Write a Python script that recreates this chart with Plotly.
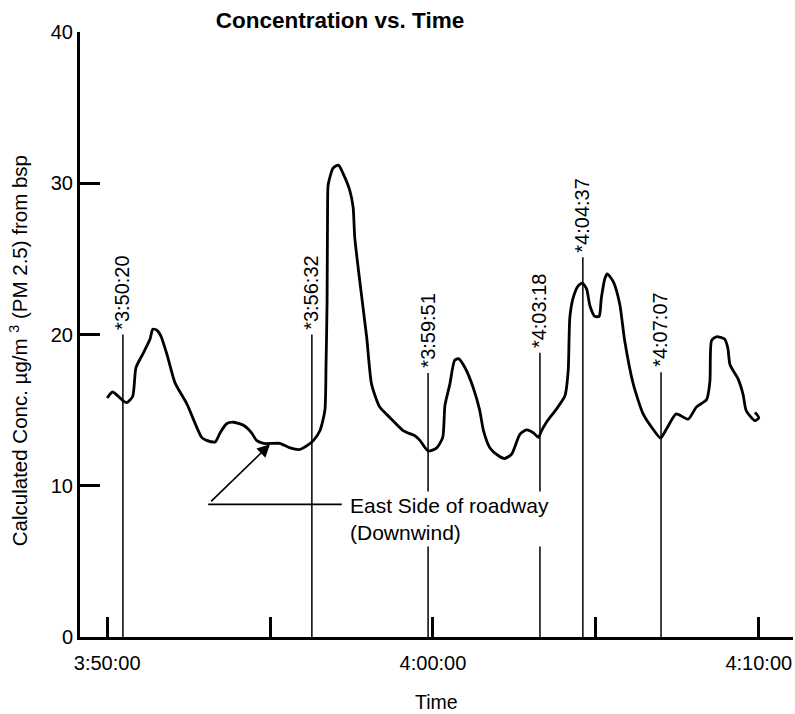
import plotly.graph_objects as go
import pandas as pd

# ---- data ----
BASE = pd.Timestamp("2000-01-01 03:50:00")

# elapsed seconds after 3:50:00 and concentration (ug/m3)
elapsed_s = [0, 10, 30, 36, 47, 53, 67, 79, 84, 91, 99, 110, 125, 147, 174, 183, 199, 208,
             220, 232, 251, 266, 275, 288, 303, 318, 337, 355, 370, 380, 392, 401, 403, 405,
             406, 407, 416, 426, 435, 447, 453, 456, 466, 478, 487, 502, 521, 545, 567, 576,
             591, 607, 618, 622, 631, 640, 647, 659, 674, 686, 693, 705, 720, 732, 745, 760,
             772, 785, 794, 800, 809, 828, 843, 849, 852, 858, 867, 875, 883, 889, 898, 906,
             910, 917, 921, 932, 944, 953, 969, 987, 1005, 1019, 1030, 1048, 1070, 1085, 1104,
             1110, 1113, 1122, 1137, 1143, 1147, 1162, 1171, 1177, 1193, 1200, 1193]
conc = [15.8, 16.2, 15.6, 15.5, 15.9, 17.8, 18.8, 19.7, 20.35, 20.3, 19.9, 18.7, 16.8, 15.4,
        13.2, 13.0, 12.9, 13.5, 14.1, 14.2, 14.0, 13.5, 13.0, 12.8, 12.8, 12.8, 12.5, 12.4,
        12.7, 13.0, 13.65, 15.0, 17.8, 22.2, 28.8, 29.9, 31.0, 31.2, 30.6, 29.5, 28.4, 26.4,
        23.3, 19.8, 16.7, 15.2, 14.5, 13.65, 13.3, 13.0, 12.3, 12.5, 13.2, 15.3, 16.7, 18.3,
        18.4, 17.8, 16.5, 15.0, 13.65, 12.5, 12.0, 11.8, 12.1, 13.4, 13.7, 13.5, 13.2, 13.65,
        14.2, 15.1, 15.95, 17.6, 21.1, 22.4, 23.2, 23.4, 23.0, 21.9, 21.2, 21.2, 22.4, 23.75,
        24.0, 23.5, 22.0, 19.6, 16.7, 14.75, 13.75, 13.15, 13.75, 14.75, 14.4, 15.2, 15.7,
        16.9, 19.6, 19.85, 19.7, 19.1, 18.0, 17.05, 16.05, 14.95, 14.3, 14.5, 14.85]

# event markers: position (elapsed s), label, top of line (ug/m3)
event_s = [29, 377, 591, 797, 876, 1020]
event_labels = ["*3:50:20", "*3:56:32", "*3:59:51", "*4:03:18", "*4:04:37", "*4:07:07"]
event_tops = [20.0, 20.0, 17.45, 18.8, 25.1, 17.5]

tick_s = [0, 600, 1200]
tick_text = ["3:50:00", "4:00:00", "4:10:00"]
minor_step_s = 300
y_ticks = [0, 10, 20, 30, 40]

def t(s):
    return BASE + pd.Timedelta(seconds=s)

FONT = "Liberation Sans, Arial, Helvetica, sans-serif"

fig = go.Figure()

# event vertical lines
for s, top in zip(event_s, event_tops):
    fig.add_trace(go.Scatter(x=[t(s), t(s)], y=[0, top], mode="lines",
                             line=dict(color="black", width=1.5),
                             hoverinfo="skip", showlegend=False))

# concentration curve
fig.add_trace(go.Scatter(x=[t(s) for s in elapsed_s], y=conc, mode="lines",
                         line=dict(color="black", width=2.8, shape="spline", smoothing=0.6),
                         showlegend=False))

annotations = []
for s, lab, top in zip(event_s, event_labels, event_tops):
    annotations.append(dict(x=t(s), y=top, xref="x", yref="y", text=lab, textangle=-90,
                            showarrow=False, xanchor="center", yanchor="bottom", yshift=3,
                            xshift=-1,
                            font=dict(family=FONT, size=20, color="black")))

# callout: leader line + arrow + text
annotations.append(dict(x=t(300), y=12.75, ax=t(186), ay=8.77, xref="x", yref="y",
                        axref="x", ayref="y", text=" ", showarrow=True, arrowhead=2,
                        arrowsize=1.6, arrowwidth=1.6, arrowcolor="black"))
annotations.append(dict(x=t(442), y=8.77, xref="x", yref="y",
                        text="East Side of roadway<br>(Downwind)", showarrow=False,
                        xanchor="left", yanchor="middle", align="left", yshift=-15,
                        bgcolor="white", borderpad=2,
                        font=dict(family=FONT, size=21, color="black")))
# axis titles
annotations.append(dict(x=-0.0856, y=0.474, xref="paper", yref="paper",
                        text="Calculated Conc. µg/m <sup>3</sup> (PM 2.5) from bsp",
                        textangle=-90, showarrow=False, xanchor="center", yanchor="middle",
                        font=dict(family=FONT, size=20.5, color="black")))
annotations.append(dict(x=0.5007, y=-0.108, xref="paper", yref="paper", text="Time",
                        showarrow=False, xanchor="center", yanchor="middle",
                        font=dict(family=FONT, size=19.5, color="black")))

shapes = [dict(type="line", xref="x", yref="y", x0=t(186), x1=t(432), y0=8.77, y1=8.77,
               line=dict(color="black", width=1.6), layer="above")]

fig.update_layout(
    width=795, height=714,
    margin=dict(l=80, r=2, t=32, b=77),
    paper_bgcolor="white", plot_bgcolor="white",
    title=dict(text="<b>Concentration vs. Time</b>", x=340 / 795, xanchor="center",
               y=1 - 20 / 714, yanchor="middle",
               font=dict(family=FONT, size=22.5, color="black")),
    xaxis=dict(type="date", range=[t(-50), t(1263)],
               tickvals=[t(s) for s in tick_s], ticktext=tick_text,
               ticks="inside", ticklen=20, tickwidth=3, tickcolor="black",
               minor=dict(tick0=t(0), dtick=minor_step_s * 1000, ticks="inside",
                          ticklen=20, tickwidth=3, tickcolor="black", showgrid=False),
               ticklabelstandoff=6,
               showline=True, linecolor="black", linewidth=3,
               showgrid=False, zeroline=False,
               tickfont=dict(family=FONT, size=20, color="black")),
    yaxis=dict(range=[0, 40], tickvals=y_ticks, ticks="inside", ticklen=20, tickwidth=3,
               tickcolor="black", showline=True, linecolor="black", linewidth=3,
               showgrid=False, zeroline=False,
               tickfont=dict(family=FONT, size=20, color="black")),
    annotations=annotations,
    shapes=shapes,
)

fig.write_html("out.html")
